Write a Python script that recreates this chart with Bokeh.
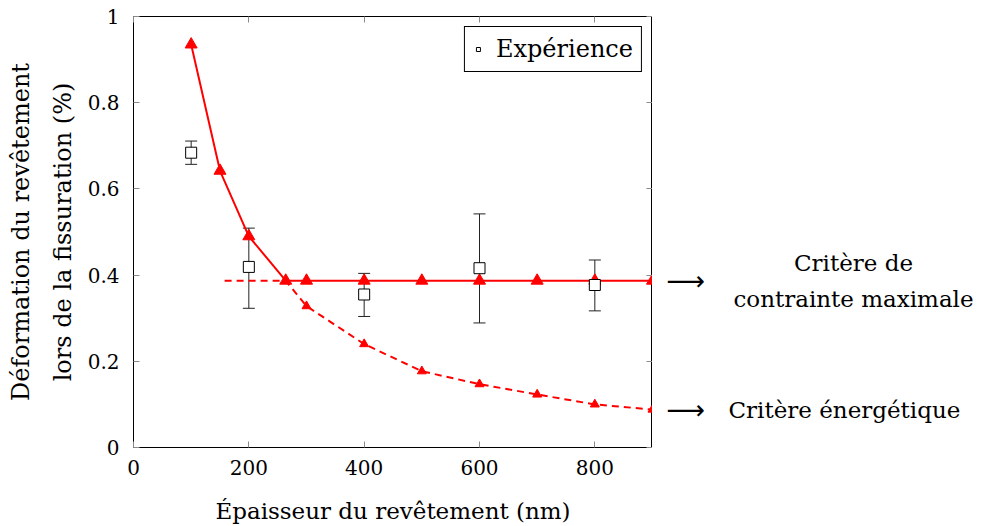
from bokeh.plotting import figure
from bokeh.layouts import row
from bokeh.models import (ColumnDataSource, Whisker, TeeHead, Label, LinearAxis,
                          FixedTicker, Legend, LegendItem, Range1d)
from bokeh.embed import file_html
from bokeh.resources import INLINE

# ---- data ----
stress_x = [100, 150, 200, 264, 300, 400, 500, 600, 700, 800, 900]
stress_y = [0.935, 0.642, 0.490, 0.387, 0.387, 0.387, 0.387, 0.387, 0.387, 0.387, 0.387]

energy_line_x = [158, 264, 300, 400, 500, 600, 700, 800, 900]
energy_line_y = [0.387, 0.387, 0.328, 0.240, 0.177, 0.147, 0.123, 0.100, 0.088]
energy_mark_x = [300, 400, 500, 600, 700, 800, 900]
energy_mark_y = [0.328, 0.240, 0.177, 0.147, 0.123, 0.100, 0.088]

exp_x = [100, 200, 400, 600, 800]
exp_y = [0.684, 0.419, 0.355, 0.416, 0.377]
exp_lo = [0.657, 0.323, 0.304, 0.289, 0.317]
exp_hi = [0.711, 0.509, 0.404, 0.542, 0.435]

x_ticks = [0, 200, 400, 600, 800]
y_ticks = [0, 0.2, 0.4, 0.6, 0.8, 1]
y_tick_labels = ["0", "0.2", "0.4", "0.6", "0.8", "1"]

FONT = "DejaVu Serif"
FS_TICK = "20px"
FS = "23px"
RED = "#ff0000"
TICKC = "#8a8a8a"

yr = Range1d(0, 1)
p = figure(output_backend="svg", toolbar_location=None,
           frame_width=519, frame_height=431,
           min_border_left=133, min_border_right=0,
           min_border_top=16, min_border_bottom=71,
           x_range=Range1d(0, 900), y_range=yr)
p.grid.visible = False
p.outline_line_color = "black"
p.outline_line_alpha = 1
p.outline_line_width = 1

for ax in (p.xaxis[0], p.yaxis[0]):
    ax.major_tick_in = 6
    ax.major_tick_out = 0
    ax.minor_tick_line_color = None
    ax.major_tick_line_color = TICKC
    ax.axis_line_color = None
    ax.major_label_text_font = FONT
    ax.major_label_text_font_size = FS_TICK
    ax.major_label_text_color = "black"
    ax.axis_label_text_font = FONT
    ax.axis_label_text_font_size = FS
    ax.axis_label_text_font_style = "normal"
    ax.axis_label_text_color = "black"

p.xaxis.ticker = FixedTicker(ticks=x_ticks)
p.yaxis.ticker = FixedTicker(ticks=y_ticks)
p.yaxis.major_label_overrides = {t: l for t, l in zip(y_ticks, y_tick_labels)}
p.xaxis.axis_label = "Épaisseur du revêtement (nm)"
p.yaxis.axis_label = "Déformation du revêtement\nlors de la fissuration (%)"
p.yaxis.axis_label_text_font_size = "24px"
p.yaxis.axis_label_text_line_height = 1.5
p.xaxis.major_label_standoff = 12
p.yaxis.major_label_standoff = 14
p.xaxis.axis_label_standoff = 20
p.yaxis.axis_label_standoff = 8

# mirrored ticks (top / right)
top = LinearAxis(ticker=FixedTicker(ticks=x_ticks))
right = LinearAxis(ticker=FixedTicker(ticks=y_ticks))
for ax in (top, right):
    ax.major_tick_in = 6
    ax.major_tick_out = 0
    ax.minor_tick_line_color = None
    ax.major_tick_line_color = TICKC
    ax.axis_line_color = None
    ax.major_label_text_font_size = "1px"
    ax.major_label_text_color = None
    ax.major_label_standoff = 0
p.add_layout(top, "above")
p.add_layout(right, "right")

# energy criterion (dashed)
p.line(energy_line_x, energy_line_y, line_color=RED, line_width=2, line_dash="7 5")
p.scatter(energy_mark_x, energy_mark_y, marker="triangle", size=9,
          fill_color=RED, line_color=RED)

# max stress criterion (solid)
p.line(stress_x, stress_y, line_color=RED, line_width=2)
p.scatter(stress_x, stress_y, marker="triangle", size=12,
          fill_color=RED, line_color=RED)

# experiment
src = ColumnDataSource(dict(x=exp_x, y=exp_y, lo=exp_lo, hi=exp_hi))
wh = Whisker(source=src, base="x", upper="hi", lower="lo",
             line_color="#222222", line_width=1,
             upper_head=TeeHead(size=12, line_color="#222222", line_width=1),
             lower_head=TeeHead(size=12, line_color="#222222", line_width=1))
p.add_layout(wh)
exp_r = p.scatter("x", "y", source=src, marker="square", size=11,
                  fill_color="white", line_color="black", line_width=1)

legend = Legend(items=[LegendItem(label="Expérience", renderers=[exp_r])],
                location="top_right")
legend.label_text_font = FONT
legend.label_text_font_size = "24px"
legend.label_text_color = "black"
legend.border_line_color = "black"
legend.border_line_alpha = 1
legend.margin = 10
legend.padding = 8
legend.glyph_width = 10
legend.label_standoff = 13
p.add_layout(legend)

# right-hand panel for the criterion annotations
p2 = figure(output_backend="svg", toolbar_location=None,
            frame_width=328, frame_height=431,
            min_border_left=0, min_border_right=0,
            min_border_top=16, min_border_bottom=71,
            x_range=Range1d(0, 1), y_range=yr,
            x_axis_type=None, y_axis_type=None)
p2.grid.visible = False
p2.outline_line_color = None

def lab(text, y, xoff, yoff, align="left", font=FONT, size=FS):
    p2.add_layout(Label(x=0, y=y, x_offset=xoff, y_offset=yoff, text=text,
                        text_font=font, text_font_size=size, text_align=align,
                        text_baseline="middle", text_color="black"))

lab("⟶", stress_y[-1], 14, 0, font="DejaVu Sans", size="27px")
lab("Critère de", stress_y[-1], 201, 18, align="center")
lab("contrainte maximale", stress_y[-1], 201, -18, align="center")
lab("⟶", energy_mark_y[-1], 14, 0, font="DejaVu Sans", size="27px")
lab("Critère énergétique", energy_mark_y[-1], 76, 0)

layout = row(p, p2)
open("out.html", "w").write(file_html(layout, INLINE))
